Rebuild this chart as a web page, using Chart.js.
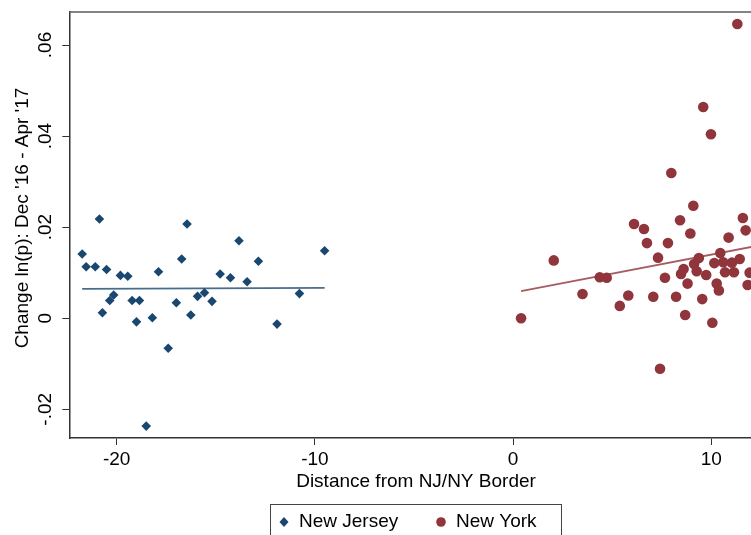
<!DOCTYPE html>
<html>
<head>
<meta charset="utf-8">
<script src="https://cdn.jsdelivr.net/npm/chart.js@4/dist/chart.umd.min.js"></script>
<style>
  html, body { margin: 0; padding: 0; background: #fff; overflow: hidden; }
  canvas { display: block; }
</style>
</head>
<body>
<canvas id="c" width="751" height="535"></canvas>
<script>
// Distance from the border (miles) and change in log price, by county side
const njX = [-21.74, -21.54, -21.08, -20.87, -20.51, -20.72, -20.35, -20.15, -19.81, -19.44,
             -19.22, -18.85, -19.00, -18.51, -18.20, -17.89, -17.40, -16.99, -16.72, -16.45,
             -16.26, -15.92, -15.57, -15.19, -14.78, -14.26, -13.83, -13.42, -12.85, -11.91,
             -10.78, -9.51];
const njY = [0.0141, 0.0113, 0.0113, 0.0218, 0.0107, 0.0012, 0.0039, 0.0051, 0.0094, 0.0092,
             0.0039, 0.0039, -0.0008, -0.0237, 0.0001, 0.0102, -0.0066, 0.0034, 0.0130, 0.0207,
             0.0007, 0.0048, 0.0056, 0.0037, 0.0097, 0.0089, 0.0170, 0.0080, 0.0125, -0.0013,
             0.0054, 0.0148];

const nyX = [0.40, 2.05, 3.50, 4.37, 4.72, 5.38, 5.81, 6.10, 6.60, 6.75,
             7.07, 7.31, 7.41, 7.66, 7.81, 7.98, 8.22, 8.42, 8.47, 8.60,
             8.68, 8.80, 8.94, 9.09, 9.13, 9.26, 9.37, 9.54, 9.59, 9.74,
             9.98, 10.05, 10.15, 10.27, 10.38, 10.45, 10.60, 10.69, 10.87, 11.04,
             11.14, 11.31, 11.43, 11.59, 11.73, 11.83, 11.93];
const nyY = [0.0000, 0.0127, 0.0053, 0.0090, 0.0089, 0.0027, 0.0050, 0.0207, 0.0196, 0.0165,
             0.0047, 0.0133, -0.0111, 0.0089, 0.0165, 0.0319, 0.0047, 0.0215, 0.0097, 0.0108,
             0.0007, 0.0076, 0.0186, 0.0247, 0.0119, 0.0103, 0.0132, 0.0042, 0.0464, 0.0095,
             0.0404, -0.0010, 0.0121, 0.0076, 0.0061, 0.0143, 0.0123, 0.0101, 0.0177, 0.0122,
             0.0101, 0.0646, 0.0130, 0.0220, 0.0193, 0.0073, 0.0100];

// Linear fit endpoints for each side
const njFitX = [-21.74, -9.51];
const njFitY = [0.00644, 0.00666];
const nyFitX = [0.40, 12.2];
const nyFitY = [0.00593, 0.0158];

// Axis ticks and labels
const xTickValues = [-20, -10, 0, 10];
const yTickValues = [-0.02, 0, 0.02, 0.04, 0.06];
const yTickLabels = ['-.02', '0', '.02', '.04', '.06'];
const seriesNames = ['New Jersey', 'New York'];
const xTitle = 'Distance from NJ/NY Border';
const yTitle = "Change ln(p): Dec '16 - Apr '17";

const xMin = -22.39, xMax = 12.0;
const yMin = -0.02631, yMax = 0.06725;

const NAVY = '#1a476f';
const MAROON = '#90353b';
const FONT = '"Liberation Sans", Arial, Helvetica, sans-serif';
const AXIS = '#333333';

const toPoints = (xs, ys) => xs.map((x, i) => ({ x, y: ys[i] }));

// Frame top edge, rotated y labels, titles and boxed legend
const chrome = {
  id: 'chrome',
  afterDraw(chart) {
    const { ctx, chartArea: a, scales: { y } } = chart;
    ctx.save();
    ctx.strokeStyle = '#5c5c5c';
    ctx.lineWidth = 1.5;
    ctx.beginPath();
    ctx.moveTo(a.left, a.top);
    ctx.lineTo(a.right + 2, a.top);
    ctx.stroke();

    ctx.fillStyle = '#000';
    ctx.font = '19px ' + FONT;
    ctx.textAlign = 'center';
    ctx.textBaseline = 'middle';
    yTickValues.forEach((v, i) => {
      const py = y.getPixelForValue(v);
      ctx.save();
      ctx.translate(46, py);
      ctx.rotate(-Math.PI / 2);
      ctx.fillText(yTickLabels[i], 0, 0);
      ctx.restore();
    });
    ctx.save();
    ctx.translate(23, 218);
    ctx.rotate(-Math.PI / 2);
    ctx.fillText(yTitle, 0, 0);
    ctx.restore();

    ctx.fillText(xTitle, 416, 482);

    // legend
    ctx.strokeStyle = '#444';
    ctx.lineWidth = 1;
    ctx.strokeRect(270.5, 504.5, 291, 50);
    const ly = 522;
    ctx.fillStyle = NAVY;
    ctx.beginPath();
    ctx.moveTo(284, ly - 5);
    ctx.lineTo(288.5, ly);
    ctx.lineTo(284, ly + 5);
    ctx.lineTo(279.5, ly);
    ctx.closePath();
    ctx.fill();
    ctx.fillStyle = MAROON;
    ctx.beginPath();
    ctx.arc(441, ly, 4.8, 0, Math.PI * 2);
    ctx.fill();
    ctx.fillStyle = '#000';
    ctx.textAlign = 'left';
    ctx.fillText(seriesNames[0], 299, ly);
    ctx.fillText(seriesNames[1], 456, ly);
    ctx.restore();
  }
};

new Chart(document.getElementById('c'), {
  type: 'scatter',
  data: {
    datasets: [
      {
        label: seriesNames[0],
        data: toPoints(njX, njY),
        pointStyle: 'rectRot',
        pointRadius: 4.8,
        backgroundColor: NAVY,
        borderWidth: 0,
        order: 1
      },
      {
        label: seriesNames[1],
        data: toPoints(nyX, nyY),
        pointStyle: 'circle',
        pointRadius: 5.3,
        backgroundColor: MAROON,
        borderWidth: 0,
        order: 1
      },
      {
        label: 'NJ fit',
        data: toPoints(njFitX, njFitY),
        showLine: true,
        pointRadius: 0,
        borderColor: 'rgba(26,71,111,0.8)',
        borderWidth: 1.7,
        order: 2
      },
      {
        label: 'NY fit',
        data: toPoints(nyFitX, nyFitY),
        showLine: true,
        pointRadius: 0,
        borderColor: 'rgba(144,53,59,0.8)',
        borderWidth: 1.8,
        order: 2
      }
    ]
  },
  options: {
    responsive: false,
    animation: false,
    events: [],
    layout: { autoPadding: false, padding: { top: 12, left: 0, right: 0, bottom: 67 } },
    plugins: { legend: { display: false }, tooltip: { enabled: false } },
    scales: {
      x: {
        type: 'linear',
        min: xMin,
        max: xMax,
        afterBuildTicks: s => { s.ticks = xTickValues.map(v => ({ value: v })); },
        afterFit: s => { s.height = 30; s.paddingLeft = 0; s.paddingRight = 0; },
        ticks: {
          color: '#000',
          font: { family: FONT, size: 19 },
          padding: 3,
          maxRotation: 0,
          autoSkip: false,
          callback: v => String(v)
        },
        grid: { drawOnChartArea: false, drawTicks: true, tickLength: 7, color: AXIS, lineWidth: 1 },
        border: { display: true, color: AXIS, width: 1.5 }
      },
      y: {
        type: 'linear',
        min: yMin,
        max: yMax,
        afterBuildTicks: s => { s.ticks = yTickValues.map(v => ({ value: v })); },
        afterFit: s => { s.width = 69.3; s.paddingTop = 0; s.paddingBottom = 0; },
        ticks: { display: false },
        grid: { drawOnChartArea: false, drawTicks: true, tickLength: 7, color: AXIS, lineWidth: 1 },
        border: { display: true, color: AXIS, width: 1.5 }
      }
    }
  },
  plugins: [chrome]
});
</script>
</body>
</html>
